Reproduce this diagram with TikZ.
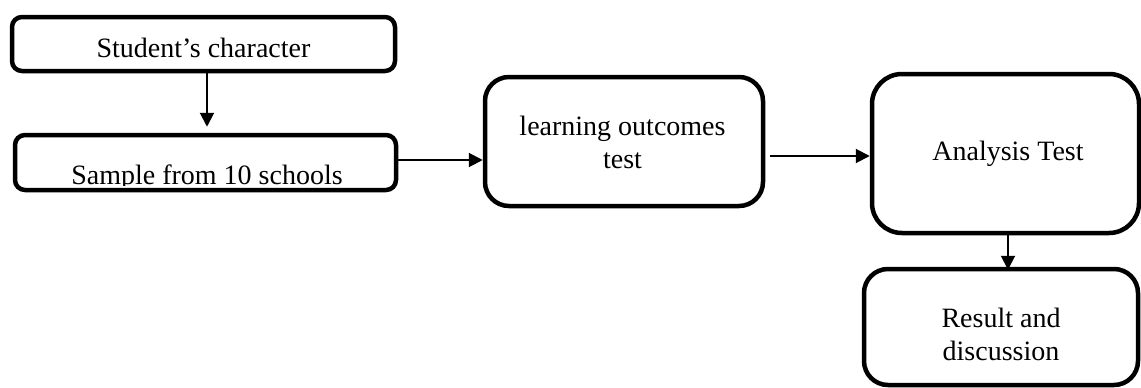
\documentclass[tikz,border=0pt]{standalone}
\usepackage{fontspec}
\setmainfont{Liberation Serif}
\usetikzlibrary{arrows.meta}
\begin{document}
\begin{tikzpicture}[x=1pt,y=-1pt,
  box/.style={draw=black, line width=4.5pt, rectangle, inner sep=0pt, fill=white},
  lbl/.style={font=\fontsize{28}{33}\selectfont, inner sep=0pt, align=center, anchor=base},
  arr/.style={line width=2pt, -{Triangle[length=14pt,width=14pt]}}]
\useasboundingbox (0,0) rectangle (1141,388);
\clip (0,0) rectangle (1141,388);
% boxes
\node[box, rounded corners=10pt, minimum width=383pt, minimum height=54pt] (b1) at (203.5,44) {};
\node[box, rounded corners=10pt, minimum width=381pt, minimum height=55pt] (b2) at (205.5,162.5) {};
\node[box, rounded corners=24pt, minimum width=278pt, minimum height=129pt] (b3) at (624,141.5) {};
\node[box, rounded corners=30pt, minimum width=267pt, minimum height=159pt] (b4) at (1005.5,153.5) {};
\node[box, rounded corners=24pt, minimum width=274pt, minimum height=116pt] (b5) at (1001,327) {};
% texts
\node[lbl] (t1) at (203.5,57) {Student’s character};
\begin{scope}
\clip (0,0) rectangle (1141,185.5);
\node[lbl] (t2) at (207,184) {Sample from 10 schools};
\end{scope}
\node[lbl] (t3) at (622.5,168) {learning outcomes\\test};
\node[lbl] (t4) at (1008,160) {Analysis Test};
\node[lbl] (t5) at (1001,360) {Result and\\discussion};
% connectors
\draw[arr, shorten >=6pt] ([xshift=3.5pt]b1.south) -- ([xshift=3.5pt]b1.south |- b2.north);
\draw[arr] (b2.east |- 0,160) -- (b3.west |- 0,160);
\draw[arr, shorten <=5pt] (b3.east |- 0,156) -- (b4.west |- 0,156);
\draw[arr, shorten >=-3pt] ([xshift=2.5pt]b4.south) -- ([xshift=2.5pt]b4.south |- b5.north);
\end{tikzpicture}
\end{document}
